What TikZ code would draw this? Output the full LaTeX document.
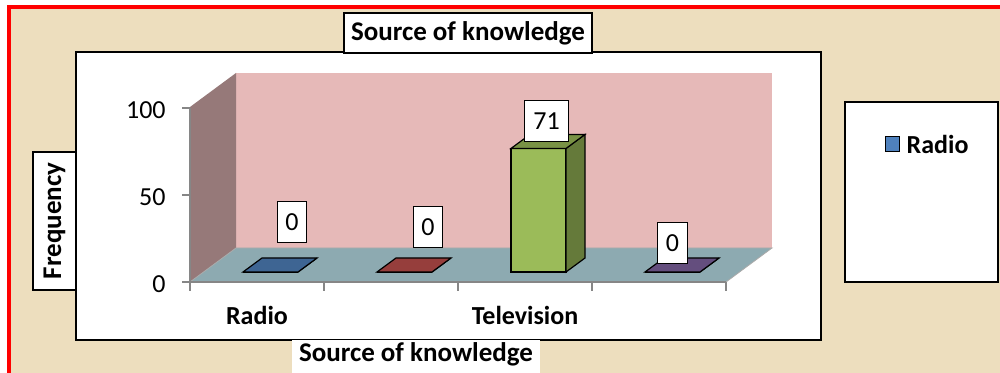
\documentclass[tikz,border=0pt]{standalone}
\usepackage{fontspec}
\setmainfont{Carlito}
\usepackage{xcolor}
\usepackage{tikz}
\usetikzlibrary{positioning,calc}

\definecolor{parchment}{RGB}{237,222,190}
\definecolor{wallback}{RGB}{230,185,184}
\definecolor{wallside}{RGB}{150,121,121}
\definecolor{floorcol}{RGB}{141,170,177}
\definecolor{axisgray}{RGB}{134,134,134}
\definecolor{radioc}{RGB}{79,129,189}
\definecolor{redc}{RGB}{192,80,77}
\definecolor{tvc}{RGB}{155,187,89}
\definecolor{purplec}{RGB}{128,100,162}

\begin{document}
\begin{tikzpicture}[
    x=0.5pt, y=-0.5pt,
    % boxes round the titles
    titlebox/.style={draw, fill=white, line width=0.6pt, inner sep=0pt,
      font=\bfseries\fontsize{13.5}{16}\selectfont},
    % data labels above the bars
    valuebox/.style={draw, fill=white, line width=0.5pt, inner xsep=4.2pt,
      inner ysep=0pt, minimum height=20.5pt, font=\fontsize{13}{15}\selectfont},
    ticklabel/.style={anchor=base east, inner sep=0pt, font=\fontsize{13}{15}\selectfont},
    catlabel/.style={anchor=base, inner sep=0pt, font=\bfseries\fontsize{13}{15}\selectfont},
    axisline/.style={draw=axisgray, line width=0.6pt},
  ]
  \useasboundingbox (0,0) rectangle (1000,373);
  \fill[white] (0,0) rectangle (1000,373);
  \fill[parchment] (9,7) rectangle (1000,373);
  \draw[red, line width=1.6pt] (9,373) -- (9,7) -- (1000,7);

  % chart and legend panels
  \draw[fill=white, line width=0.8pt] (76,52) rectangle (821,340);
  \draw[fill=white, line width=0.8pt] (845,102) rectangle (998,282);

  % walls and floor
  \coordinate (fl) at (190,282);
  \coordinate (bl) at (236,248);
  \coordinate (br) at (772,248);
  \coordinate (fr) at (726,282);
  \fill[wallback] (bl) rectangle (772,73);
  \fill[wallside] (fl) -- (190,107) -- (236,73) -- (bl) -- cycle;
  \filldraw[fill=floorcol, draw=axisgray!70] (fl) -- (bl) -- (br) -- (fr) -- cycle;

  % axes
  \draw[axisline] (190,108) -- (fl) -- (fr);
  \foreach \y/\v in {108/100, 195/50, 282/0} {
    \draw[axisline] (182,\y) -- (190,\y);
    \node[ticklabel] (tick\v) at (166,\y+11) {\v};
  }
  \foreach \x in {190,324,458,592,726}
    \draw[axisline] (\x,282) -- (\x,291);

  % bars
  \foreach \cat/\val/\col/\lx/\ly in {257/0/radioc/292/222.5, 391/0/redc/428/227.5,
      525/71/tvc/546.5/121.5, 659/0/purplec/672.5/243.5} {
    \pgfmathsetmacro{\xl}{\cat-14}
    \pgfmathsetmacro{\xr}{\cat+41}
    \pgfmathsetmacro{\yt}{272-1.74*\val}
    \filldraw[fill=\col, line width=0.6pt] (\xl,272) rectangle (\xr,\yt);
    \filldraw[fill=\col!65!black, line width=0.6pt] (\xr,272) -- (\xr+19,258)
      -- (\xr+19,\yt-14) -- (\xr,\yt) -- cycle;
    \filldraw[fill=\col!78!black, line width=0.6pt] (\xl,\yt) -- (\xr,\yt)
      -- (\xr+19,\yt-14) -- (\xl+19,\yt-14) -- cycle;
    \node[valuebox] (val\cat) at (\lx,\ly) {\val};
  }

  \node[catlabel] (radio) at (257,325) {Radio};
  \node[catlabel] (tv) at (525,325) {Television};

  % titles
  \node[titlebox, minimum width=124pt, minimum height=20pt] (title) at (468,33)
    {Source of knowledge};
  \fill[white] (292,340) rectangle (540,373);
  \node[catlabel, font=\bfseries\fontsize{13.5}{16}\selectfont] (xtitle) at (416,362)
    {Source of knowledge};
  \node[titlebox, rotate=90, minimum width=69pt, minimum height=21.5pt] (ytitle)
    at (54.5,221) {Frequency};

  % legend
  \node[draw, fill=radioc, line width=0.6pt, inner sep=0pt, minimum size=7.2pt]
    (legsq) at (892.5,144) {};
  \node[right=3pt of legsq, inner sep=0pt, font=\bfseries\fontsize{13}{15}\selectfont]
    (legtext) {Radio};
\end{tikzpicture}
\end{document}
